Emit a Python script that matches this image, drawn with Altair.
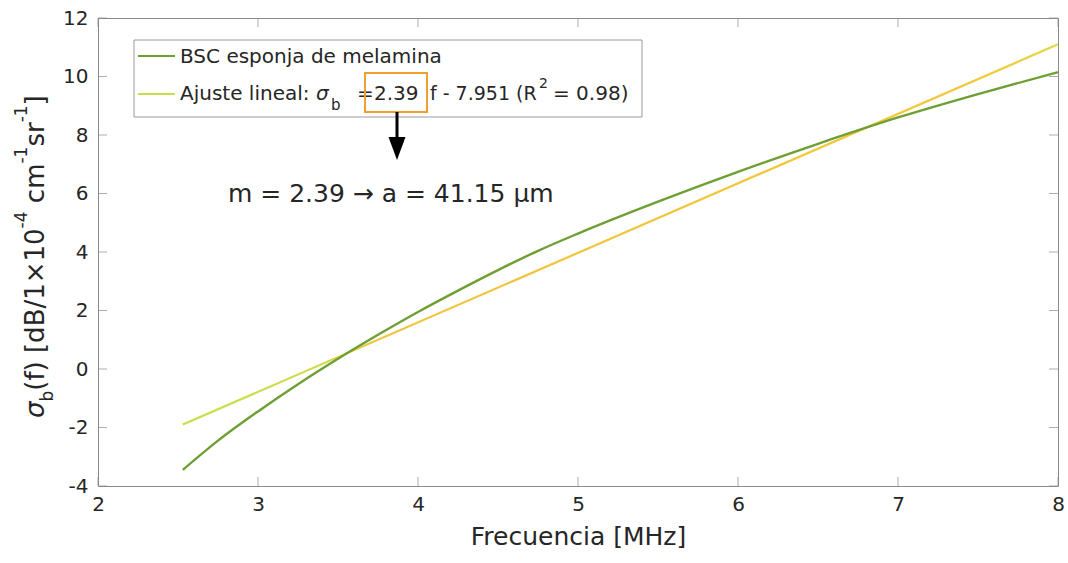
import altair as alt
import pandas as pd

# ---- data ----
freq_bsc = [2.53, 2.75, 3.0, 3.25, 3.5, 3.75, 4.0, 4.25, 4.5, 4.75, 5.0, 5.5, 6.0, 6.5, 7.0, 7.5, 8.0]
bsc_vals = [-3.45, -2.45, -1.45, -0.52, 0.35, 1.17, 1.95, 2.68, 3.38, 4.04, 4.63, 5.72, 6.74, 7.70, 8.60, 9.40, 10.15]
freq_fit = [2.53, 8.0]
fit_vals = [-1.9, 11.1]
x_ticks = [2, 3, 4, 5, 6, 7, 8]
y_ticks = [-4, -2, 0, 2, 4, 6, 8, 10, 12]

legend_1 = "BSC esponja de melamina"
annot_text = "m = 2.39  \u2192 a = 41.15 \u03bcm"

FONT = "DejaVu Sans"
TXT = "#262626"
GREEN = "#6f9f33"
FITC = "#c8de48"
W, H = 960, 468
OX, OY = 98, 18  # plot origin on page


def px(x):
    return x - OX


def py(y):
    return y - OY


bsc_df = pd.DataFrame({"f": freq_bsc, "v": bsc_vals})
fit_df = pd.DataFrame({"f": freq_fit, "v": fit_vals})
xt_df = pd.DataFrame({"t": x_ticks})
yt_df = pd.DataFrame({"t": y_ticks})
one = pd.DataFrame({"k": [0]})

xscale = alt.Scale(domain=[2, 8], nice=False, zero=False)
yscale = alt.Scale(domain=[-4, 12], nice=False, zero=False)

xaxis = alt.Axis(values=x_ticks, grid=False, ticks=False, domain=False, labelFont=FONT,
                 labelFontSize=20, labelColor=TXT, labelPadding=8, labelFlush=False,
                 labelExpr="datum.value + ''", title="Frecuencia [MHz]",
                 titleFont=FONT, titleFontSize=25, titleFontWeight="normal", titleColor=TXT,
                 titlePadding=10)
yaxis = alt.Axis(values=y_ticks, grid=False, ticks=False, domain=False, labelFont=FONT,
                 labelFontSize=20, labelColor=TXT, labelPadding=10, labelFlush=False,
                 labelExpr="datum.value + ''", title=None)

base_x = alt.X("f:Q", scale=xscale, axis=xaxis)
base_y = alt.Y("v:Q", scale=yscale, axis=yaxis)

fit_line = alt.Chart(fit_df).mark_line(
    strokeWidth=2.2,
    color=alt.Gradient(gradient="linear", x1=0, x2=1, y1=0, y2=0,
                       stops=[alt.GradientStop(offset=0, color="#c5e04a"),
                              alt.GradientStop(offset=0.15, color="#cfdc45"),
                              alt.GradientStop(offset=0.23, color="#efc43c"),
                              alt.GradientStop(offset=0.9, color="#f2c83a"),
                              alt.GradientStop(offset=1, color="#e2d845")]),
).encode(x=base_x, y=base_y)

bsc_line = alt.Chart(bsc_df).mark_line(strokeWidth=2.4, color=GREEN, interpolate="monotone").encode(
    x=alt.X("f:Q", scale=xscale), y=alt.Y("v:Q", scale=yscale))

# inward ticks on four sides
tick_col = "#8a8a8a"
xt_bot = alt.Chart(xt_df).mark_tick(orient="vertical", size=9, thickness=1, color=tick_col).encode(
    x=alt.X("t:Q", scale=xscale), y=alt.value(H - 4.5))
xt_top = alt.Chart(xt_df).mark_tick(orient="vertical", size=9, thickness=1, color=tick_col).encode(
    x=alt.X("t:Q", scale=xscale), y=alt.value(4.5))
yt_left = alt.Chart(yt_df).mark_tick(orient="horizontal", size=9, thickness=1, color=tick_col).encode(
    y=alt.Y("t:Q", scale=yscale), x=alt.value(4.5))
yt_right = alt.Chart(yt_df).mark_tick(orient="horizontal", size=9, thickness=1, color=tick_col).encode(
    y=alt.Y("t:Q", scale=yscale), x=alt.value(W - 4.5))

layers = [xt_bot, xt_top, yt_left, yt_right, fit_line, bsc_line]

# legend box
legend_box = alt.Chart(one).mark_rect(fill="white", stroke="#9a9a9a", strokeWidth=1).encode(
    x=alt.value(px(134)), x2=alt.value(px(642)), y=alt.value(py(40)), y2=alt.value(py(117)))
leg_l1 = alt.Chart(one).mark_rule(color=GREEN, strokeWidth=2).encode(
    x=alt.value(px(138)), x2=alt.value(px(175)), y=alt.value(py(56)))
leg_l2 = alt.Chart(one).mark_rule(color=FITC, strokeWidth=2).encode(
    x=alt.value(px(138)), x2=alt.value(px(175)), y=alt.value(py(94)))
layers += [legend_box, leg_l1, leg_l2]


def txt(s, x, y, size, angle=None, baseline="alphabetic", italic=False, color=TXT):
    kw = dict(text=s, align="left", baseline=baseline, font=FONT, fontSize=size, color=color)
    if angle is not None:
        kw["angle"] = angle
    if italic:
        kw["fontStyle"] = "italic"
    return alt.Chart(one).mark_text(**kw).encode(x=alt.value(px(x)), y=alt.value(py(y)))


# legend texts (line 2 split for sub/superscripts)
layers += [
    txt(legend_1, 180, 63, 20),
    txt("Ajuste lineal: ", 180, 100, 20),
    txt("\u03c3", 316, 100, 20, italic=True),
    txt("b", 331, 110, 15),
    txt("=", 357, 100, 20),
    txt("2.39", 374, 100, 20),
    txt("f - 7.951 (R", 430, 100, 19),
    txt("2", 539, 88, 14),
    txt("= 0.98)", 553, 100, 20),
]

# orange highlight box + arrow + annotation
orange_box = alt.Chart(one).mark_rect(fill="transparent", stroke="#f0a030", strokeWidth=2).encode(
    x=alt.value(px(365)), x2=alt.value(px(427)), y=alt.value(py(73)), y2=alt.value(py(112)))
arrow_shaft = alt.Chart(one).mark_rule(color="black", strokeWidth=3).encode(
    x=alt.value(px(397)), y=alt.value(py(112)), y2=alt.value(py(140)))
arrow_head = alt.Chart(one).mark_point(shape="M-0.74,-1L0.74,-1L0,1Z", filled=True, size=529,
                                       color="black", opacity=1).encode(
    x=alt.value(px(397)), y=alt.value(py(148.5)))
layers += [orange_box, arrow_shaft, arrow_head, txt(annot_text, 228, 202, 25)]

# y-axis title, laid out piece by piece (rotated, reading upward)
M, S = 26, 17
EM = {"σ": 0.634, "b": 0.635, "(f)": 1.132, " ": 0.318, "[dB/1×10": 4.794, "-4": 0.997,
      "cm": 1.524, "-1": 0.997, "sr": 0.932, "]": 0.39}
pieces = [("\u03c3", "main", True), ("b", "sub", False), ("(f)", "main", False), (" ", "main", False),
          ("[dB/1\u00d710", "main", False), ("-4", "sup", False), (" ", "main", False),
          ("cm", "main", False), ("-1", "sup", False), ("sr", "main", False), ("-1", "sup", False),
          ("]", "main", False)]
ycur = 418.0
for s, kind, ital in pieces:
    key = s.replace("\u03c3", "σ").replace("\u00d7", "×")
    size = M if kind == "main" else S
    xpos = {"main": 36, "sub": 48, "sup": 22}[kind]
    if s.strip():
        layers.append(txt(s, xpos, ycur, size, angle=270, baseline="middle", italic=ital))
    ycur -= EM[key] * size

chart = alt.layer(*layers).properties(
    width=W, height=H,
    autosize=alt.AutoSizeParams(type="none"),
    padding={"left": OX, "top": OY, "right": 1068 - OX - W, "bottom": 563 - OY - H},
    background="white",
).configure_view(stroke="#8a8a8a", strokeWidth=1)

chart.save("out.html", embed_options={"renderer": "svg", "actions": False})
